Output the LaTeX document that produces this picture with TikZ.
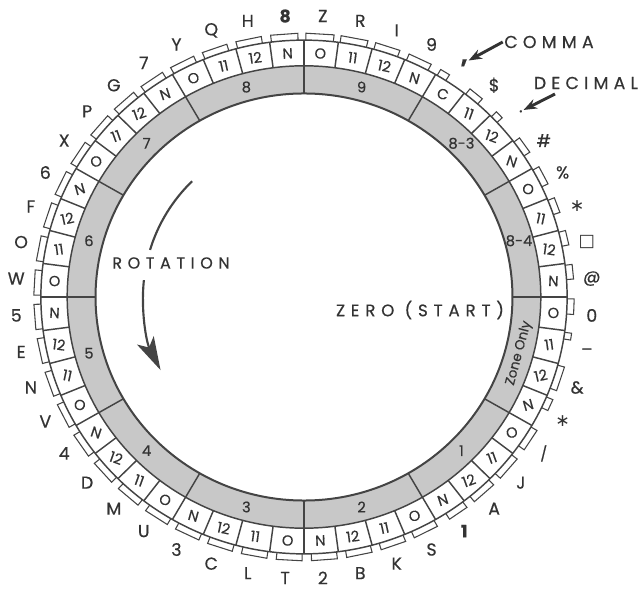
\documentclass[tikz,border=0pt]{standalone}
\usepackage{fontspec}
\setmainfont{Poppins}[FakeBold=0.5]
\newfontfamily\symbolfont{DejaVu Sans}
\newfontfamily\capfont{Poppins}[LetterSpace=35,FakeBold=0.5]
\newfontfamily\notefont{Poppins}[LetterSpace=30,FakeBold=0.5]
\usetikzlibrary{arrows.meta}
\definecolor{drumInk}{HTML}{444444}
\definecolor{drumText}{HTML}{333333}
\definecolor{drumShade}{HTML}{C8C8C8}
\tikzset{
  drum/line/.style={draw=drumInk, line width=1.1pt},
  drum/tab/.style={draw=drumInk, line width=0.8pt, fill=white},
  drum/cell/.style={font=\fontsize{11}{11}\selectfont, text=drumText,
    inner sep=0.5pt},
  drum/digit/.style={font=\fontsize{11}{11}\selectfont, text=drumText,
    inner sep=0.5pt},
  drum/char/.style={font=\fontsize{13}{13}\selectfont, text=drumText,
    inner sep=0.5pt},
  drum/caption/.style={font=\capfont\fontsize{12}{12}\selectfont,
    text=drumText, inner sep=1pt},
  drum/note/.style={font=\notefont\fontsize{13}{13}\selectfont,
    text=drumText, inner sep=1pt},
  drum/pointer/.style={-{Stealth[length=10pt,width=7.5pt]}, draw=drumText,
    line width=2.2pt},
  drum/sweep/.style={draw=drumInk, line width=1.6pt},
  drum/sweephead/.style={-{Stealth[length=25pt,width=14pt,inset=6pt]}},
}

\begin{document}
\begin{tikzpicture}[x=0.75pt,y=0.75pt]
\useasboundingbox (-304,-292) rectangle (340,297);

\begin{scope}[xscale=1.012,yscale=0.988]
  % shaded band
  \fill[drumShade, even odd rule] (0,0) circle[radius=234] (0,0) circle[radius=206];
  % type slugs and printed characters
  \foreach \ch/\tab [count=\k from 0] in {Z/6, R/5.8, I/5.4, 9/5.2,
      {{\fontsize{18}{18}\selectfont\textbf{,}}}/2.2, \$/3.4, ./1.8, \#/3.8,
      \%/4.2, {{\symbolfont ∗}}/3.4, {{\symbolfont □}}/3.2, @/3.2,
      0/3.4, –/1.5, \&/5.4, {{\symbolfont ∗}}/2.6,
      {{\fontsize{11}{11}\selectfont /}}/5, J/5.5, A/5.5, \textbf{1}/4.5,
      S/5.5, K/5.5, B/5.5, 2/5.5,
      T/5.5, L/5.5, C/5.5, 3/5.5,
      U/5.5, M/5.5, D/5.5, 4/5.5,
      V/5.5, N/5.5, E/5.5, 5/5.5,
      W/5.5, O/5.5, F/5.5, 6/5.5,
      X/5.5, P/5.5, G/5.5, 7/5.5,
      Y/5.5, Q/5.5, H/5.5, \textbf{8}/5.8}{
    \pgfmathsetmacro\a{86.25-7.5*\k}
    \pgfmathsetmacro\b{\a+3.35}
    \pgfmathsetmacro\c{\b-\tab}
    \draw[drum/tab] (\b:260) -- (\b:267) -- (\c:267) -- (\c:260);
    \node[drum/char] (char\k) at (\a:285) {\ch};
  }
  \draw[drum/line] (0,0) circle[radius=260];
  \draw[drum/line] (0,0) circle[radius=234];
  \draw[drum/line, line width=1.5pt] (0,0) circle[radius=206];
  \foreach \k in {0,...,47}
    \draw[drum/line] (90-7.5*\k:234) -- (90-7.5*\k:260);
  \foreach \s in {0,...,11}
    \draw[drum/line] (90-30*\s:206) -- (90-30*\s:234);
  % segments and punch rows
  \foreach \digit/\first/\turn [count=\s from 0] in {9/O/0, 8-3/C/0, 8-4/O/0,
      {\fontsize{10}{10}\selectfont Zone Only}/O/75, 1/O/0, 2/O/0, 3/O/0,
      4/O/0, 5/O/0, 6/O/0, 7/O/0, 8/O/0}{
    \node[drum/digit, rotate=\turn] (seg\s) at (75-30*\s:220) {\digit};
    \foreach \lab [count=\j from 0] in {\first,11,12,N}{
      \pgfmathsetmacro\a{86.25-7.5*(4*\s+\j)}
      \pgfmathsetmacro\r{-20*sin(2*\a)}
      \node[drum/cell, rotate=\r] (cell\s-\j) at (\a:247) {\lab};
    }
  }
\end{scope}

\node[drum/caption] (rotation) at (-133,34) {ROTATION};
\node[drum/caption, font=\capfont\fontsize{12.5}{12.5}\selectfont] (zero) at (116,-13) {ZERO (START)};
\node[drum/note] (comma) at (245,255) {COMMA};
\node[drum/note] (decimal) at (282,214) {DECIMAL};

\draw[drum/pointer] (comma.west) -- (char4);
\coordinate (decimal tail) at (251,203);
\draw[drum/pointer] (decimal tail) -- (char6);

\coordinate (sweep top) at (134:161);
\draw[drum/sweep] (sweep top) arc[start angle=134, end angle=163, radius=161];
\coordinate (sweep low) at (174:161);
\draw[drum/sweep, drum/sweephead] (sweep low) arc[start angle=174, end angle=207, radius=161];
\end{tikzpicture}
\end{document}
